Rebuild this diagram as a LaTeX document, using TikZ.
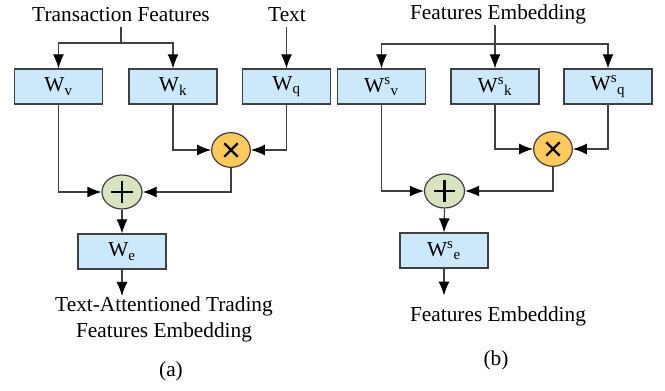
\documentclass[tikz,border=0pt]{standalone}
\usepackage{fontspec}
\setmainfont{Liberation Serif}
\usetikzlibrary{arrows.meta,shapes.geometric}
\definecolor{boxblue}{HTML}{CCE8FB}
\definecolor{addgreen}{HTML}{D8E4BE}
\definecolor{mulorange}{HTML}{FFC95C}
\definecolor{edge}{HTML}{404040}
\begin{document}
\begin{tikzpicture}[x=0.75pt,y=-0.75pt,
  every node/.style={font=\fontsize{16}{19.5}\selectfont},
  wbox/.style={draw=edge,line width=0.9pt,fill=boxblue,minimum width=66pt,minimum height=26.25pt,inner sep=0pt},
  addop/.style={ellipse,draw=edge,line width=0.9pt,fill=addgreen,minimum width=30pt,minimum height=25.5pt,inner sep=0pt,
    path picture={\draw[line width=1.6pt,black] ([xshift=-8pt]path picture bounding box.center) -- ([xshift=8pt]path picture bounding box.center);
                  \draw[line width=1.6pt,black] ([yshift=-8pt]path picture bounding box.center) -- ([yshift=8pt]path picture bounding box.center);}},
  mulop/.style={ellipse,draw=edge,line width=0.9pt,fill=mulorange,minimum width=29pt,minimum height=26pt,inner sep=0pt,
    path picture={\draw[line width=1.8pt,black] ([shift={(-5pt,-5pt)}]path picture bounding box.center) -- ([shift={(5pt,5pt)}]path picture bounding box.center);
                  \draw[line width=1.8pt,black] ([shift={(-5pt,5pt)}]path picture bounding box.center) -- ([shift={(5pt,-5pt)}]path picture bounding box.center);}},
  toplabel/.style={anchor=base,inner xsep=0pt,inner ysep=3.75pt,text depth=0pt},
  conn/.style={draw=edge,line width=0.9pt},
  arr/.style={conn,-{Latex[length=10.5pt,width=8.25pt,color=black]}}]
\useasboundingbox (0,0) rectangle (665,391);

% ---------- panel (a) ----------
\node[toplabel] (tf) at (121,22) {Transaction Features};
\node[toplabel] (tx) at (287,22) {Text};
\node[wbox] (wv) at (58.5,86.5) {W\textsubscript{v}};
\node[wbox] (wk) at (173,86.5) {W\textsubscript{k}};
\node[wbox] (wq) at (286.5,86.5) {W\textsubscript{q}};
\node[mulop] (mul) at (231,150) {};
\node[addop] (add) at (122,192) {};
\node[wbox] (we) at (122,251.5) {W\textsubscript{e}};
\node[align=center,anchor=north,inner sep=0pt] (outa) at (164,296) {Text-Attentioned Trading\\Features Embedding};
\node (capa) at (171,371) {(a)};

\coordinate (ja) at (121,43);
\draw[arr] (tf.south) -- (ja) -| (wv.north);
\draw[arr] (ja) -| (wk.north);
\draw[arr] (wq.north |- tx.south) -- (wq.north);
\draw[arr] (wk.south) |- (mul.west);
\draw[arr] (wq.south) |- (mul.east);
\draw[arr] (wv.south) |- (add.west);
\draw[arr] (mul.south) |- (add.east);
\draw[arr] (add.south) -- (we.north);
\draw[arr] (we.south) -- (we.south |- outa.north);

% ---------- panel (b) ----------
\node[toplabel] (fe) at (498,20) {Features Embedding};
\node[wbox] (wvs) at (381.5,86.5) {W\textsuperscript{s}\textsubscript{v}};
\node[wbox] (wks) at (495,86.5) {W\textsuperscript{s}\textsubscript{k}};
\node[wbox] (wqs) at (608,86.5) {W\textsuperscript{s}\textsubscript{q}};
\node[mulop] (mulb) at (553,149) {};
\node[addop] (addb) at (444.5,191) {};
\node[wbox] (wes) at (444,250.5) {W\textsuperscript{s}\textsubscript{e}};
\node[inner sep=0pt] (outb) at (498,316) {Features Embedding};
\node (capb) at (496,360) {(b)};

\coordinate (jb) at (495,44);
\draw[arr] (wks.north |- fe.south) -- (wks.north);
\draw[arr] (jb) -| (wvs.north);
\draw[arr] (jb) -| (wqs.north);
\draw[arr] (wks.south) |- (mulb.west);
\draw[arr] (wqs.south) |- (mulb.east);
\draw[arr] (wvs.south) |- (addb.west);
\draw[arr] (mulb.south) |- (addb.east);
\draw[arr] (addb.south) -- (wes.north);
\draw[arr] (wes.south) -- ++(0,27);
\end{tikzpicture}
\end{document}
